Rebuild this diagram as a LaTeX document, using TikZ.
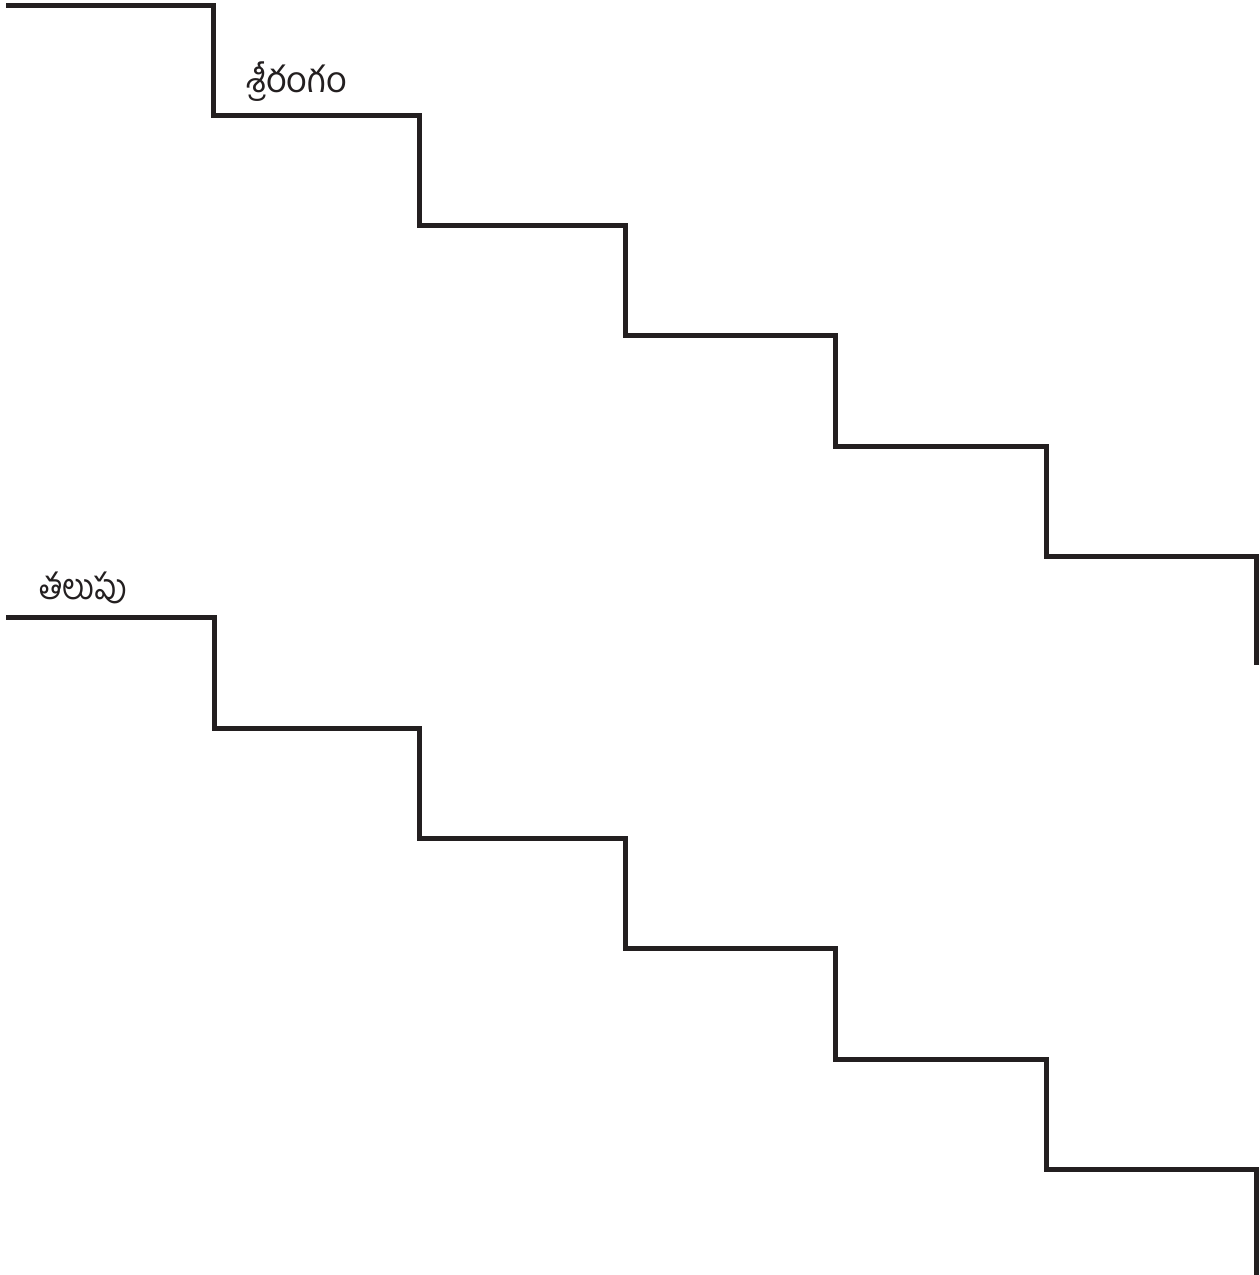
\documentclass[tikz,border=0pt]{standalone}
\usepackage{fontspec}
\newfontfamily\telugufont[Script=Telugu]{Hind Guntur}
\definecolor{stufe}{RGB}{35,31,32}

\begin{document}
\begin{tikzpicture}[x=0.5pt, y=-0.5pt, stufe, line width=2.5pt, line join=miter]

	\useasboundingbox (0,0) rectangle (1259,1275);

	\draw (6,5) -- (213,5) -- (213,115) -- (419,115) -- (419,225) -- (625,225) -- (625,335)
		-- (835,335) -- (835,446) -- (1046,446) -- (1046,556) -- (1256,556) -- (1256,665);
	\node[font=\telugufont\fontsize{18}{22}\selectfont] (srirangam) at (297,82) {శ్రీరంగం};

	\draw (6,617) -- (214,617) -- (214,728) -- (419,728) -- (419,838) -- (625,838) -- (625,948)
		-- (835,948) -- (835,1059) -- (1046,1059) -- (1046,1169) -- (1256,1169) -- (1256,1275);
	\node[font=\telugufont\fontsize{18}{22}\selectfont, xscale=0.85] (talupu) at (83,588) {తలుపు};

\end{tikzpicture}
\end{document}
